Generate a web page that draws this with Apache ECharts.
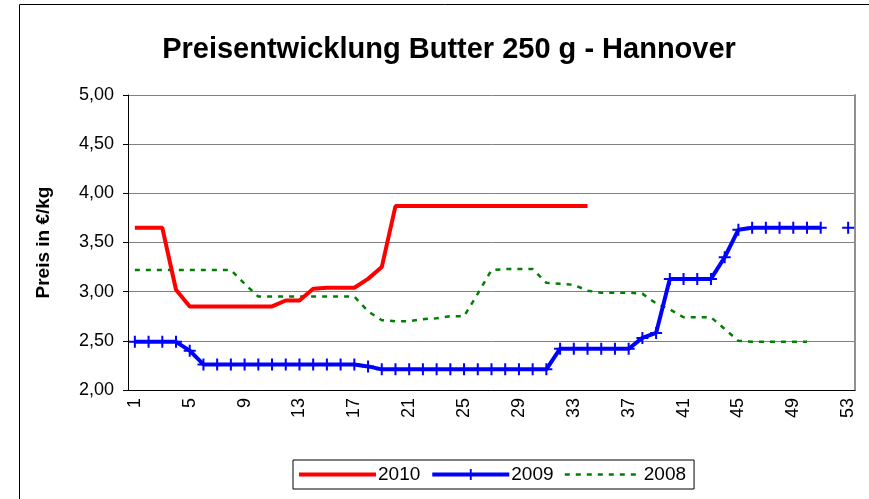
<!DOCTYPE html>
<html>
<head>
<meta charset="UTF-8">
<title>Preisentwicklung Butter</title>
<script src="https://cdn.jsdelivr.net/npm/echarts@6/dist/echarts.min.js"></script>
<style>
	html, body { margin: 0; padding: 0; background: #fff; }
	#main { width: 869px; height: 499px; }
</style>
</head>
<body>
<div id="main"></div>
<script type="text/javascript">
	// Kalenderwochen 1..53
	var weeks = [];
	for (var w = 1; w <= 53; w++) weeks.push(String(w));

	// Preise in €/kg
	var prices2010 = [3.65, 3.65, 3.65, 3.02, 2.85, 2.85, 2.85, 2.85, 2.85, 2.85,
		2.85, 2.91, 2.91, 3.03, 3.04, 3.04, 3.04, 3.13, 3.25, 3.87,
		3.87, 3.87, 3.87, 3.87, 3.87, 3.87, 3.87, 3.87, 3.87, 3.87,
		3.87, 3.87, 3.87, 3.87];
	var prices2009 = [2.49, 2.49, 2.49, 2.49, 2.40, 2.26, 2.26, 2.26, 2.26, 2.26,
		2.26, 2.26, 2.26, 2.26, 2.26, 2.26, 2.26, 2.24, 2.21, 2.21,
		2.21, 2.21, 2.21, 2.21, 2.21, 2.21, 2.21, 2.21, 2.21, 2.21,
		2.21, 2.42, 2.42, 2.42, 2.42, 2.42, 2.42, 2.53, 2.58, 3.13,
		3.13, 3.13, 3.13, 3.35, 3.63, 3.65, 3.65, 3.65, 3.65, 3.65,
		3.65, null, 3.65];
	var prices2008 = [3.22, 3.22, 3.22, 3.22, 3.22, 3.22, 3.22, 3.22, 3.08, 2.95,
		2.95, 2.95, 2.95, 2.95, 2.95, 2.95, 2.95, 2.80, 2.71, 2.70,
		2.70, 2.72, 2.73, 2.75, 2.75, 2.98, 3.22, 3.23, 3.23, 3.23,
		3.09, 3.08, 3.07, 3.01, 2.99, 2.99, 2.99, 2.98, 2.88, 2.82,
		2.74, 2.74, 2.74, 2.62, 2.50, 2.49, 2.49, 2.49, 2.49, 2.49];

	var font = 'Liberation Sans, Arial, sans-serif';
	var plus = 'path://M5,0H7V5H12V7H7V12H5V7H0V5H5Z';

	var myChart = echarts.init(document.getElementById('main'));

	var option = {
		animation: false,
		backgroundColor: '#fff',
		textStyle: { fontFamily: font, color: '#000' },
		title: {
			text: 'Preisentwicklung Butter 250 g - Hannover',
			left: 444,
			top: 30,
			textAlign: 'center',
			textStyle: { fontFamily: font, fontSize: 29, fontWeight: 'bold', color: '#000' }
		},
		graphic: [{
			type: 'rect',
			shape: { x: 19.5, y: 4.5, width: 900, height: 600 },
			style: { fill: 'none', stroke: '#000', lineWidth: 1 },
			silent: true
		}],
		legend: {
			left: 293,
			top: 460,
			padding: [5, 8, 5, 4],
			borderColor: '#000',
			borderWidth: 1,
			itemGap: 10,
			itemWidth: 77,
			itemHeight: 14,
			textStyle: { fontFamily: font, fontSize: 19, color: '#000', padding: [0, 0, 0, -3] },
			data: [
				{ name: '2010', itemStyle: { opacity: 0 }, lineStyle: { width: 4 } },
				{ name: '2009', lineStyle: { width: 4 } },
				{ name: '2008', itemStyle: { opacity: 0 }, lineStyle: { width: 2.5 } }
			]
		},
		grid: {
			left: 128,
			right: 14,
			top: 95,
			bottom: 109
		},
		xAxis: {
			type: 'category',
			data: weeks,
			boundaryGap: true,
			axisLine: { lineStyle: { color: '#000', width: 1 } },
			axisTick: { interval: 0, length: 4, lineStyle: { color: '#000' } },
			axisLabel: {
				interval: 3,
				rotate: 90,
				margin: 8,
				fontFamily: font,
				fontSize: 18,
				color: '#000'
			},
			splitLine: { show: false }
		},
		yAxis: [{
			type: 'value',
			min: 2,
			max: 5,
			interval: 0.5,
			name: 'Preis in €/kg',
			nameLocation: 'middle',
			nameRotate: 90,
			nameGap: 75,
			nameTextStyle: { fontFamily: font, fontSize: 19, fontWeight: 'bold', color: '#000' },
			axisLine: { show: true, lineStyle: { color: '#000', width: 1 } },
			axisTick: { show: true, length: 5, lineStyle: { color: '#000' } },
			axisLabel: {
				margin: 14,
				fontFamily: font,
				fontSize: 18,
				color: '#000',
				formatter: function (v) { return v.toFixed(2).replace('.', ','); }
			},
			splitLine: { show: true, lineStyle: { color: '#808080', width: 1 } }
		}, {
			type: 'value',
			min: 2,
			max: 5,
			interval: 0.5,
			position: 'right',
			axisLine: { show: true, lineStyle: { color: '#909090', width: 2 } },
			axisTick: { show: false },
			axisLabel: { show: false },
			splitLine: { show: false }
		}],
		series: [
			{
				name: '2010',
				type: 'line',
				data: prices2010,
				symbol: 'none',
				color: '#ff0000',
				lineStyle: { color: '#ff0000', width: 4 },
				z: 4
			},
			{
				name: '2009',
				type: 'line',
				data: prices2009,
				symbol: plus,
				symbolSize: 12,
				showAllSymbol: true,
				connectNulls: false,
				color: '#0000ff',
				itemStyle: { color: '#0000ff' },
				lineStyle: { color: '#0000ff', width: 4 },
				z: 3
			},
			{
				name: '2008',
				type: 'line',
				data: prices2008,
				symbol: 'none',
				color: '#008000',
				lineStyle: { color: '#008000', width: 2.5, type: [5, 6] },
				z: 2
			}
		]
	};

	myChart.setOption(option);
</script>
</body>
</html>
